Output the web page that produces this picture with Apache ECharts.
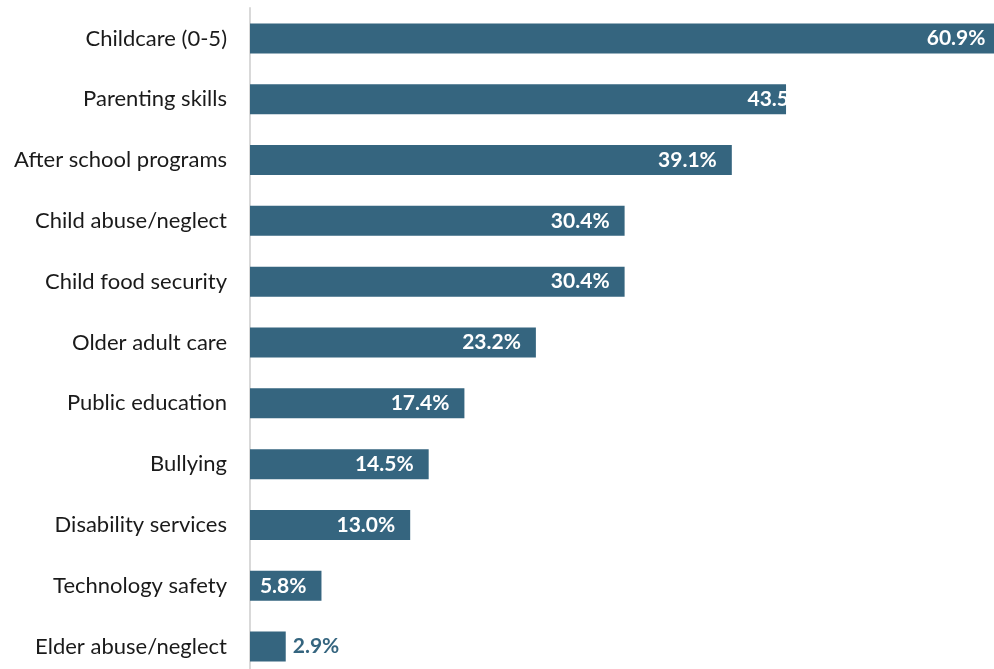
<!DOCTYPE html>
<html>
<head>
    <meta charset="utf-8">
    <title>Needs</title>
    <script src="https://cdn.jsdelivr.net/npm/echarts@6/dist/echarts.min.js"></script>
    <style>
        html, body { margin: 0; padding: 0; background: #fff; }
    </style>
</head>
<body>
    <div id="main" style="width: 994px;height:669px;"></div>
    <script type="text/javascript">
        var categories = ['Childcare (0-5)', 'Parenting skills', 'After school programs', 'Child abuse/neglect',
            'Child food security', 'Older adult care', 'Public education', 'Bullying',
            'Disability services', 'Technology safety', 'Elder abuse/neglect'];
        var values = [60.9, 43.5, 39.1, 30.4, 30.4, 23.2, 17.4, 14.5, 13.0, 5.8, 2.9];

        var barColor = '#35657f';
        var myChart = echarts.init(document.getElementById('main'));

        var data = values.map(function (v, i) {
            var item = { value: v };
            if (v < 5) {
                // too short for the label inside
                item.label = { position: 'right', color: barColor, distance: 7 };
            }
            if (i === 1) {
                // label runs past the end of this bar and is cut off
                item.label = { formatter: '43.5', distance: -3 };
            }
            return item;
        });

        var option = {
            animation: false,
            grid: { left: 250, top: 8, width: 764, height: 669, outerBoundsMode: 'none' },
            xAxis: {
                type: 'value',
                min: 0,
                max: 62,
                show: false
            },
            yAxis: {
                type: 'category',
                data: categories,
                inverse: true,
                axisLine: { show: true, lineStyle: { color: '#d9d9d9', width: 2 } },
                axisTick: { show: false },
                axisLabel: {
                    margin: 23,
                    color: '#1a1a1a',
                    fontSize: 22,
                    fontFamily: 'Lato'
                }
            },
            series: [{
                type: 'bar',
                data: data,
                barWidth: 30,
                itemStyle: { color: barColor },
                label: {
                    show: true,
                    position: 'insideRight',
                    distance: 15,
                    color: '#fff',
                    fontWeight: 'bold',
                    fontSize: 21,
                    fontFamily: 'Lato',
                    formatter: function (p) { return p.value.toFixed(1) + '%'; }
                }
            }]
        };

        myChart.setOption(option);
    </script>
</body>
</html>
